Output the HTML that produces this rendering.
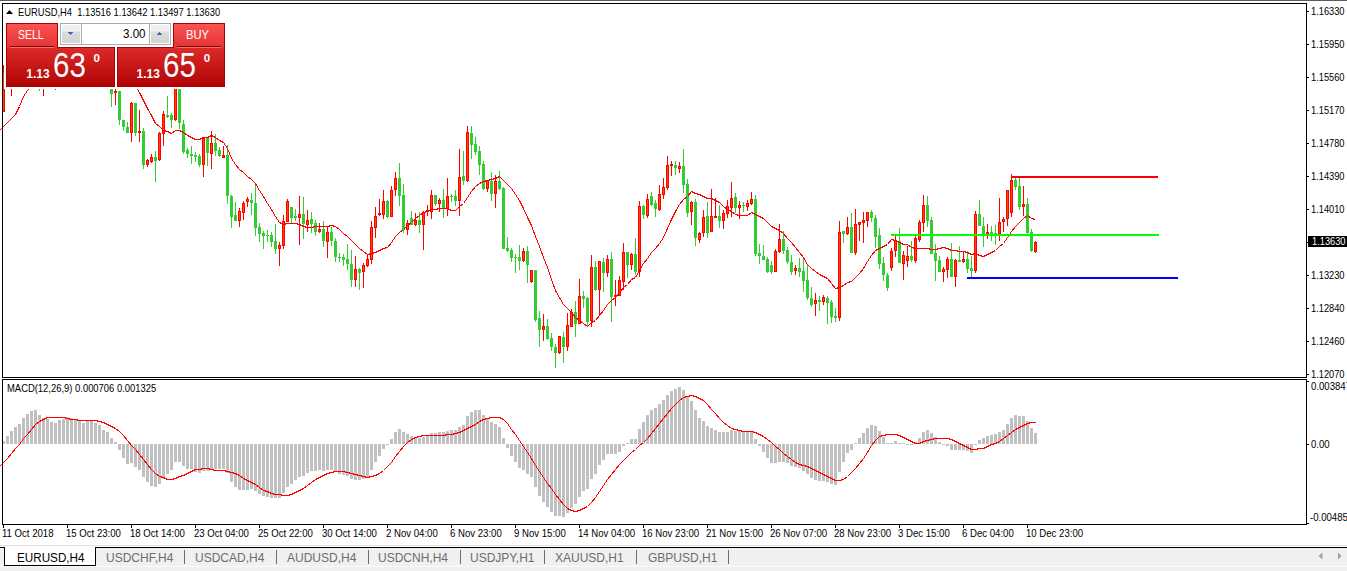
<!DOCTYPE html>
<html><head><meta charset="utf-8"><title>EURUSD,H4</title>
<style>
html,body{margin:0;padding:0;background:#fff;}
body{width:1347px;height:571px;overflow:hidden;position:relative;font-family:"Liberation Sans",sans-serif;}
.t{position:absolute;white-space:nowrap;line-height:1;}
</style></head><body>
<svg width="1347" height="571" style="position:absolute;left:0;top:0" shape-rendering="crispEdges">
<rect x="11" y="80" width="1" height="16" fill="#ff0000"/>
<rect x="39" y="80" width="1" height="11" fill="#32cd32"/>
<rect x="43" y="80" width="1" height="16" fill="#ff0000"/>
<rect x="55" y="80" width="1" height="10" fill="#ff0000"/>
<rect x="3" y="65" width="1" height="47" fill="#ff0000"/>
<rect x="2" y="72" width="3" height="40" fill="#ff0000"/>
<rect x="3" y="73" width="1" height="38" fill="#ff4500"/>
<rect x="111" y="89" width="1" height="18" fill="#32cd32"/>
<rect x="110" y="89" width="3" height="5" fill="#32cd32"/>
<rect x="115" y="89" width="1" height="16" fill="#ff0000"/>
<rect x="114" y="91" width="3" height="2" fill="#ff0000"/>
<rect x="119" y="91" width="1" height="34" fill="#32cd32"/>
<rect x="118" y="91" width="3" height="29" fill="#32cd32"/>
<rect x="123" y="120" width="1" height="11" fill="#32cd32"/>
<rect x="122" y="120" width="3" height="7" fill="#32cd32"/>
<rect x="127" y="122" width="1" height="11" fill="#32cd32"/>
<rect x="126" y="127" width="3" height="6" fill="#32cd32"/>
<rect x="131" y="102" width="1" height="40" fill="#ff0000"/>
<rect x="130" y="103" width="3" height="30" fill="#ff0000"/>
<rect x="131" y="104" width="1" height="28" fill="#ff4500"/>
<rect x="135" y="103" width="1" height="33" fill="#32cd32"/>
<rect x="134" y="103" width="3" height="30" fill="#32cd32"/>
<rect x="139" y="110" width="1" height="32" fill="#ff0000"/>
<rect x="138" y="131" width="3" height="2" fill="#ff0000"/>
<rect x="143" y="128" width="1" height="41" fill="#32cd32"/>
<rect x="142" y="131" width="3" height="34" fill="#32cd32"/>
<rect x="147" y="159" width="1" height="8" fill="#ff0000"/>
<rect x="146" y="160" width="3" height="5" fill="#ff0000"/>
<rect x="147" y="161" width="1" height="3" fill="#ff4500"/>
<rect x="151" y="154" width="1" height="9" fill="#ff0000"/>
<rect x="150" y="157" width="3" height="5" fill="#ff0000"/>
<rect x="151" y="158" width="1" height="3" fill="#ff4500"/>
<rect x="155" y="151" width="1" height="31" fill="#32cd32"/>
<rect x="154" y="157" width="3" height="4" fill="#32cd32"/>
<rect x="159" y="132" width="1" height="29" fill="#ff0000"/>
<rect x="158" y="133" width="3" height="27" fill="#ff0000"/>
<rect x="159" y="134" width="1" height="25" fill="#ff4500"/>
<rect x="163" y="111" width="1" height="35" fill="#ff0000"/>
<rect x="162" y="114" width="3" height="20" fill="#ff0000"/>
<rect x="163" y="115" width="1" height="18" fill="#ff4500"/>
<rect x="167" y="96" width="1" height="22" fill="#32cd32"/>
<rect x="166" y="115" width="3" height="2" fill="#32cd32"/>
<rect x="171" y="113" width="1" height="15" fill="#32cd32"/>
<rect x="170" y="115" width="3" height="5" fill="#32cd32"/>
<rect x="175" y="80" width="1" height="41" fill="#ff0000"/>
<rect x="174" y="80" width="3" height="40" fill="#ff0000"/>
<rect x="175" y="81" width="1" height="38" fill="#ff4500"/>
<rect x="179" y="80" width="1" height="49" fill="#32cd32"/>
<rect x="178" y="80" width="3" height="43" fill="#32cd32"/>
<rect x="183" y="120" width="1" height="34" fill="#32cd32"/>
<rect x="182" y="124" width="3" height="28" fill="#32cd32"/>
<rect x="187" y="148" width="1" height="10" fill="#32cd32"/>
<rect x="186" y="150" width="3" height="4" fill="#32cd32"/>
<rect x="191" y="146" width="1" height="18" fill="#32cd32"/>
<rect x="190" y="154" width="3" height="2" fill="#32cd32"/>
<rect x="195" y="152" width="1" height="10" fill="#32cd32"/>
<rect x="194" y="155" width="3" height="2" fill="#32cd32"/>
<rect x="199" y="154" width="1" height="13" fill="#32cd32"/>
<rect x="198" y="156" width="3" height="9" fill="#32cd32"/>
<rect x="203" y="138" width="1" height="39" fill="#ff0000"/>
<rect x="202" y="138" width="3" height="27" fill="#ff0000"/>
<rect x="203" y="139" width="1" height="25" fill="#ff4500"/>
<rect x="207" y="137" width="1" height="29" fill="#32cd32"/>
<rect x="206" y="138" width="3" height="15" fill="#32cd32"/>
<rect x="211" y="131" width="1" height="38" fill="#ff0000"/>
<rect x="210" y="143" width="3" height="11" fill="#ff0000"/>
<rect x="211" y="144" width="1" height="9" fill="#ff4500"/>
<rect x="215" y="134" width="1" height="22" fill="#32cd32"/>
<rect x="214" y="143" width="3" height="8" fill="#32cd32"/>
<rect x="219" y="147" width="1" height="10" fill="#32cd32"/>
<rect x="218" y="150" width="3" height="6" fill="#32cd32"/>
<rect x="223" y="146" width="1" height="12" fill="#ff0000"/>
<rect x="222" y="155" width="3" height="3" fill="#ff0000"/>
<rect x="223" y="156" width="1" height="1" fill="#ff4500"/>
<rect x="227" y="145" width="1" height="59" fill="#32cd32"/>
<rect x="226" y="155" width="3" height="41" fill="#32cd32"/>
<rect x="231" y="195" width="1" height="33" fill="#32cd32"/>
<rect x="230" y="196" width="3" height="21" fill="#32cd32"/>
<rect x="235" y="202" width="1" height="19" fill="#32cd32"/>
<rect x="234" y="215" width="3" height="6" fill="#32cd32"/>
<rect x="239" y="208" width="1" height="19" fill="#ff0000"/>
<rect x="238" y="211" width="3" height="10" fill="#ff0000"/>
<rect x="239" y="212" width="1" height="8" fill="#ff4500"/>
<rect x="243" y="201" width="1" height="19" fill="#ff0000"/>
<rect x="242" y="203" width="3" height="10" fill="#ff0000"/>
<rect x="243" y="204" width="1" height="8" fill="#ff4500"/>
<rect x="247" y="197" width="1" height="10" fill="#ff0000"/>
<rect x="246" y="199" width="3" height="3" fill="#ff0000"/>
<rect x="247" y="200" width="1" height="1" fill="#ff4500"/>
<rect x="251" y="193" width="1" height="22" fill="#32cd32"/>
<rect x="250" y="200" width="3" height="3" fill="#32cd32"/>
<rect x="255" y="183" width="1" height="53" fill="#32cd32"/>
<rect x="254" y="203" width="3" height="25" fill="#32cd32"/>
<rect x="259" y="223" width="1" height="19" fill="#32cd32"/>
<rect x="258" y="227" width="3" height="7" fill="#32cd32"/>
<rect x="263" y="231" width="1" height="18" fill="#32cd32"/>
<rect x="262" y="233" width="3" height="3" fill="#32cd32"/>
<rect x="267" y="230" width="1" height="12" fill="#32cd32"/>
<rect x="266" y="235" width="3" height="1" fill="#32cd32"/>
<rect x="271" y="232" width="1" height="15" fill="#32cd32"/>
<rect x="270" y="235" width="3" height="7" fill="#32cd32"/>
<rect x="275" y="224" width="1" height="30" fill="#32cd32"/>
<rect x="274" y="241" width="3" height="8" fill="#32cd32"/>
<rect x="279" y="242" width="1" height="24" fill="#ff0000"/>
<rect x="278" y="245" width="3" height="4" fill="#ff0000"/>
<rect x="279" y="246" width="1" height="2" fill="#ff4500"/>
<rect x="283" y="215" width="1" height="34" fill="#ff0000"/>
<rect x="282" y="221" width="3" height="25" fill="#ff0000"/>
<rect x="283" y="222" width="1" height="23" fill="#ff4500"/>
<rect x="287" y="199" width="1" height="23" fill="#ff0000"/>
<rect x="286" y="201" width="3" height="21" fill="#ff0000"/>
<rect x="287" y="202" width="1" height="19" fill="#ff4500"/>
<rect x="291" y="207" width="1" height="16" fill="#32cd32"/>
<rect x="290" y="207" width="3" height="11" fill="#32cd32"/>
<rect x="295" y="209" width="1" height="12" fill="#32cd32"/>
<rect x="294" y="216" width="3" height="2" fill="#32cd32"/>
<rect x="299" y="196" width="1" height="49" fill="#ff0000"/>
<rect x="298" y="214" width="3" height="4" fill="#ff0000"/>
<rect x="299" y="215" width="1" height="2" fill="#ff4500"/>
<rect x="303" y="197" width="1" height="42" fill="#32cd32"/>
<rect x="302" y="214" width="3" height="10" fill="#32cd32"/>
<rect x="307" y="210" width="1" height="22" fill="#ff0000"/>
<rect x="306" y="220" width="3" height="5" fill="#ff0000"/>
<rect x="307" y="221" width="1" height="3" fill="#ff4500"/>
<rect x="311" y="212" width="1" height="21" fill="#32cd32"/>
<rect x="310" y="219" width="3" height="5" fill="#32cd32"/>
<rect x="315" y="220" width="1" height="16" fill="#32cd32"/>
<rect x="314" y="223" width="3" height="9" fill="#32cd32"/>
<rect x="319" y="223" width="1" height="10" fill="#ff0000"/>
<rect x="318" y="229" width="3" height="3" fill="#ff0000"/>
<rect x="319" y="230" width="1" height="1" fill="#ff4500"/>
<rect x="323" y="221" width="1" height="26" fill="#32cd32"/>
<rect x="322" y="229" width="3" height="12" fill="#32cd32"/>
<rect x="327" y="227" width="1" height="31" fill="#ff0000"/>
<rect x="326" y="232" width="3" height="10" fill="#ff0000"/>
<rect x="327" y="233" width="1" height="8" fill="#ff4500"/>
<rect x="331" y="227" width="1" height="19" fill="#32cd32"/>
<rect x="330" y="232" width="3" height="9" fill="#32cd32"/>
<rect x="335" y="238" width="1" height="24" fill="#32cd32"/>
<rect x="334" y="241" width="3" height="16" fill="#32cd32"/>
<rect x="339" y="253" width="1" height="9" fill="#32cd32"/>
<rect x="338" y="257" width="3" height="1" fill="#32cd32"/>
<rect x="343" y="254" width="1" height="12" fill="#32cd32"/>
<rect x="342" y="257" width="3" height="3" fill="#32cd32"/>
<rect x="347" y="244" width="1" height="26" fill="#32cd32"/>
<rect x="346" y="259" width="3" height="5" fill="#32cd32"/>
<rect x="351" y="250" width="1" height="37" fill="#32cd32"/>
<rect x="350" y="264" width="3" height="16" fill="#32cd32"/>
<rect x="355" y="256" width="1" height="31" fill="#ff0000"/>
<rect x="354" y="269" width="3" height="11" fill="#ff0000"/>
<rect x="355" y="270" width="1" height="9" fill="#ff4500"/>
<rect x="359" y="268" width="1" height="22" fill="#32cd32"/>
<rect x="358" y="269" width="3" height="4" fill="#32cd32"/>
<rect x="363" y="263" width="1" height="25" fill="#ff0000"/>
<rect x="362" y="265" width="3" height="7" fill="#ff0000"/>
<rect x="363" y="266" width="1" height="5" fill="#ff4500"/>
<rect x="367" y="254" width="1" height="13" fill="#ff0000"/>
<rect x="366" y="259" width="3" height="7" fill="#ff0000"/>
<rect x="367" y="260" width="1" height="5" fill="#ff4500"/>
<rect x="371" y="221" width="1" height="43" fill="#ff0000"/>
<rect x="370" y="227" width="3" height="33" fill="#ff0000"/>
<rect x="371" y="228" width="1" height="31" fill="#ff4500"/>
<rect x="375" y="207" width="1" height="31" fill="#ff0000"/>
<rect x="374" y="216" width="3" height="12" fill="#ff0000"/>
<rect x="375" y="217" width="1" height="10" fill="#ff4500"/>
<rect x="379" y="199" width="1" height="17" fill="#ff0000"/>
<rect x="378" y="213" width="3" height="2" fill="#ff0000"/>
<rect x="383" y="190" width="1" height="29" fill="#ff0000"/>
<rect x="382" y="201" width="3" height="14" fill="#ff0000"/>
<rect x="383" y="202" width="1" height="12" fill="#ff4500"/>
<rect x="387" y="200" width="1" height="18" fill="#32cd32"/>
<rect x="386" y="201" width="3" height="16" fill="#32cd32"/>
<rect x="391" y="186" width="1" height="31" fill="#ff0000"/>
<rect x="390" y="190" width="3" height="27" fill="#ff0000"/>
<rect x="391" y="191" width="1" height="25" fill="#ff4500"/>
<rect x="395" y="172" width="1" height="24" fill="#ff0000"/>
<rect x="394" y="178" width="3" height="12" fill="#ff0000"/>
<rect x="395" y="179" width="1" height="10" fill="#ff4500"/>
<rect x="399" y="163" width="1" height="43" fill="#32cd32"/>
<rect x="398" y="178" width="3" height="18" fill="#32cd32"/>
<rect x="403" y="184" width="1" height="49" fill="#32cd32"/>
<rect x="402" y="195" width="3" height="35" fill="#32cd32"/>
<rect x="407" y="220" width="1" height="15" fill="#ff0000"/>
<rect x="406" y="223" width="3" height="7" fill="#ff0000"/>
<rect x="407" y="224" width="1" height="5" fill="#ff4500"/>
<rect x="411" y="211" width="1" height="14" fill="#32cd32"/>
<rect x="410" y="218" width="3" height="7" fill="#32cd32"/>
<rect x="415" y="213" width="1" height="13" fill="#ff0000"/>
<rect x="414" y="220" width="3" height="5" fill="#ff0000"/>
<rect x="415" y="221" width="1" height="3" fill="#ff4500"/>
<rect x="419" y="212" width="1" height="21" fill="#32cd32"/>
<rect x="418" y="220" width="3" height="5" fill="#32cd32"/>
<rect x="423" y="211" width="1" height="39" fill="#ff0000"/>
<rect x="422" y="212" width="3" height="13" fill="#ff0000"/>
<rect x="423" y="213" width="1" height="11" fill="#ff4500"/>
<rect x="427" y="205" width="1" height="11" fill="#ff0000"/>
<rect x="426" y="210" width="3" height="2" fill="#ff0000"/>
<rect x="431" y="190" width="1" height="29" fill="#ff0000"/>
<rect x="430" y="195" width="3" height="17" fill="#ff0000"/>
<rect x="431" y="196" width="1" height="15" fill="#ff4500"/>
<rect x="435" y="195" width="1" height="11" fill="#32cd32"/>
<rect x="434" y="195" width="3" height="9" fill="#32cd32"/>
<rect x="439" y="198" width="1" height="14" fill="#ff0000"/>
<rect x="438" y="200" width="3" height="4" fill="#ff0000"/>
<rect x="439" y="201" width="1" height="2" fill="#ff4500"/>
<rect x="443" y="189" width="1" height="29" fill="#32cd32"/>
<rect x="442" y="200" width="3" height="9" fill="#32cd32"/>
<rect x="447" y="178" width="1" height="38" fill="#ff0000"/>
<rect x="446" y="196" width="3" height="13" fill="#ff0000"/>
<rect x="447" y="197" width="1" height="11" fill="#ff4500"/>
<rect x="451" y="194" width="1" height="8" fill="#32cd32"/>
<rect x="450" y="196" width="3" height="1" fill="#32cd32"/>
<rect x="455" y="190" width="1" height="16" fill="#32cd32"/>
<rect x="454" y="196" width="3" height="5" fill="#32cd32"/>
<rect x="459" y="149" width="1" height="67" fill="#ff0000"/>
<rect x="458" y="177" width="3" height="24" fill="#ff0000"/>
<rect x="459" y="178" width="1" height="22" fill="#ff4500"/>
<rect x="463" y="151" width="1" height="34" fill="#32cd32"/>
<rect x="462" y="176" width="3" height="5" fill="#32cd32"/>
<rect x="467" y="126" width="1" height="56" fill="#ff0000"/>
<rect x="466" y="132" width="3" height="49" fill="#ff0000"/>
<rect x="467" y="133" width="1" height="47" fill="#ff4500"/>
<rect x="471" y="126" width="1" height="33" fill="#32cd32"/>
<rect x="470" y="133" width="3" height="12" fill="#32cd32"/>
<rect x="475" y="137" width="1" height="18" fill="#32cd32"/>
<rect x="474" y="144" width="3" height="8" fill="#32cd32"/>
<rect x="479" y="146" width="1" height="29" fill="#32cd32"/>
<rect x="478" y="151" width="3" height="14" fill="#32cd32"/>
<rect x="483" y="161" width="1" height="29" fill="#32cd32"/>
<rect x="482" y="164" width="3" height="25" fill="#32cd32"/>
<rect x="487" y="180" width="1" height="12" fill="#ff0000"/>
<rect x="486" y="180" width="3" height="9" fill="#ff0000"/>
<rect x="487" y="181" width="1" height="7" fill="#ff4500"/>
<rect x="491" y="172" width="1" height="29" fill="#32cd32"/>
<rect x="490" y="181" width="3" height="13" fill="#32cd32"/>
<rect x="495" y="175" width="1" height="33" fill="#ff0000"/>
<rect x="494" y="181" width="3" height="13" fill="#ff0000"/>
<rect x="495" y="182" width="1" height="11" fill="#ff4500"/>
<rect x="499" y="171" width="1" height="19" fill="#32cd32"/>
<rect x="498" y="181" width="3" height="8" fill="#32cd32"/>
<rect x="503" y="187" width="1" height="62" fill="#32cd32"/>
<rect x="502" y="188" width="3" height="61" fill="#32cd32"/>
<rect x="507" y="237" width="1" height="15" fill="#32cd32"/>
<rect x="506" y="248" width="3" height="3" fill="#32cd32"/>
<rect x="511" y="248" width="1" height="14" fill="#32cd32"/>
<rect x="510" y="250" width="3" height="8" fill="#32cd32"/>
<rect x="515" y="254" width="1" height="19" fill="#32cd32"/>
<rect x="514" y="257" width="3" height="1" fill="#32cd32"/>
<rect x="519" y="245" width="1" height="25" fill="#32cd32"/>
<rect x="518" y="257" width="3" height="4" fill="#32cd32"/>
<rect x="523" y="248" width="1" height="14" fill="#ff0000"/>
<rect x="522" y="251" width="3" height="10" fill="#ff0000"/>
<rect x="523" y="252" width="1" height="8" fill="#ff4500"/>
<rect x="527" y="246" width="1" height="37" fill="#32cd32"/>
<rect x="526" y="251" width="3" height="14" fill="#32cd32"/>
<rect x="531" y="270" width="1" height="13" fill="#ff0000"/>
<rect x="530" y="270" width="3" height="12" fill="#ff0000"/>
<rect x="531" y="271" width="1" height="10" fill="#ff4500"/>
<rect x="535" y="270" width="1" height="52" fill="#32cd32"/>
<rect x="534" y="270" width="3" height="50" fill="#32cd32"/>
<rect x="539" y="311" width="1" height="36" fill="#32cd32"/>
<rect x="538" y="318" width="3" height="12" fill="#32cd32"/>
<rect x="543" y="314" width="1" height="27" fill="#ff0000"/>
<rect x="542" y="326" width="3" height="4" fill="#ff0000"/>
<rect x="543" y="327" width="1" height="2" fill="#ff4500"/>
<rect x="547" y="319" width="1" height="21" fill="#32cd32"/>
<rect x="546" y="326" width="3" height="13" fill="#32cd32"/>
<rect x="551" y="333" width="1" height="18" fill="#32cd32"/>
<rect x="550" y="338" width="3" height="9" fill="#32cd32"/>
<rect x="555" y="344" width="1" height="24" fill="#32cd32"/>
<rect x="554" y="347" width="3" height="6" fill="#32cd32"/>
<rect x="559" y="336" width="1" height="18" fill="#ff0000"/>
<rect x="558" y="336" width="3" height="17" fill="#ff0000"/>
<rect x="559" y="337" width="1" height="15" fill="#ff4500"/>
<rect x="563" y="332" width="1" height="31" fill="#32cd32"/>
<rect x="562" y="337" width="3" height="10" fill="#32cd32"/>
<rect x="567" y="313" width="1" height="38" fill="#ff0000"/>
<rect x="566" y="325" width="3" height="22" fill="#ff0000"/>
<rect x="567" y="326" width="1" height="20" fill="#ff4500"/>
<rect x="571" y="309" width="1" height="18" fill="#ff0000"/>
<rect x="570" y="312" width="3" height="15" fill="#ff0000"/>
<rect x="571" y="313" width="1" height="13" fill="#ff4500"/>
<rect x="575" y="301" width="1" height="36" fill="#32cd32"/>
<rect x="574" y="312" width="3" height="12" fill="#32cd32"/>
<rect x="579" y="279" width="1" height="45" fill="#ff0000"/>
<rect x="578" y="296" width="3" height="28" fill="#ff0000"/>
<rect x="579" y="297" width="1" height="26" fill="#ff4500"/>
<rect x="583" y="291" width="1" height="17" fill="#32cd32"/>
<rect x="582" y="296" width="3" height="3" fill="#32cd32"/>
<rect x="587" y="297" width="1" height="30" fill="#32cd32"/>
<rect x="586" y="298" width="3" height="24" fill="#32cd32"/>
<rect x="591" y="255" width="1" height="72" fill="#ff0000"/>
<rect x="590" y="267" width="3" height="54" fill="#ff0000"/>
<rect x="591" y="268" width="1" height="52" fill="#ff4500"/>
<rect x="595" y="261" width="1" height="30" fill="#32cd32"/>
<rect x="594" y="267" width="3" height="23" fill="#32cd32"/>
<rect x="599" y="261" width="1" height="55" fill="#ff0000"/>
<rect x="598" y="261" width="3" height="29" fill="#ff0000"/>
<rect x="599" y="262" width="1" height="27" fill="#ff4500"/>
<rect x="603" y="258" width="1" height="34" fill="#32cd32"/>
<rect x="602" y="262" width="3" height="11" fill="#32cd32"/>
<rect x="607" y="255" width="1" height="22" fill="#ff0000"/>
<rect x="606" y="259" width="3" height="14" fill="#ff0000"/>
<rect x="607" y="260" width="1" height="12" fill="#ff4500"/>
<rect x="611" y="252" width="1" height="70" fill="#32cd32"/>
<rect x="610" y="259" width="3" height="38" fill="#32cd32"/>
<rect x="615" y="280" width="1" height="26" fill="#ff0000"/>
<rect x="614" y="295" width="3" height="2" fill="#ff0000"/>
<rect x="619" y="276" width="1" height="20" fill="#ff0000"/>
<rect x="618" y="280" width="3" height="16" fill="#ff0000"/>
<rect x="619" y="281" width="1" height="14" fill="#ff4500"/>
<rect x="623" y="243" width="1" height="47" fill="#ff0000"/>
<rect x="622" y="252" width="3" height="30" fill="#ff0000"/>
<rect x="623" y="253" width="1" height="28" fill="#ff4500"/>
<rect x="627" y="252" width="1" height="26" fill="#32cd32"/>
<rect x="626" y="252" width="3" height="13" fill="#32cd32"/>
<rect x="631" y="253" width="1" height="17" fill="#ff0000"/>
<rect x="630" y="254" width="3" height="11" fill="#ff0000"/>
<rect x="631" y="255" width="1" height="9" fill="#ff4500"/>
<rect x="635" y="238" width="1" height="37" fill="#32cd32"/>
<rect x="634" y="254" width="3" height="18" fill="#32cd32"/>
<rect x="639" y="201" width="1" height="76" fill="#ff0000"/>
<rect x="638" y="206" width="3" height="66" fill="#ff0000"/>
<rect x="639" y="207" width="1" height="64" fill="#ff4500"/>
<rect x="643" y="205" width="1" height="14" fill="#32cd32"/>
<rect x="642" y="206" width="3" height="9" fill="#32cd32"/>
<rect x="647" y="194" width="1" height="24" fill="#ff0000"/>
<rect x="646" y="199" width="3" height="17" fill="#ff0000"/>
<rect x="647" y="200" width="1" height="15" fill="#ff4500"/>
<rect x="651" y="192" width="1" height="14" fill="#32cd32"/>
<rect x="650" y="196" width="3" height="9" fill="#32cd32"/>
<rect x="655" y="200" width="1" height="17" fill="#32cd32"/>
<rect x="654" y="203" width="3" height="6" fill="#32cd32"/>
<rect x="659" y="185" width="1" height="26" fill="#ff0000"/>
<rect x="658" y="194" width="3" height="16" fill="#ff0000"/>
<rect x="659" y="195" width="1" height="14" fill="#ff4500"/>
<rect x="663" y="178" width="1" height="21" fill="#ff0000"/>
<rect x="662" y="187" width="3" height="8" fill="#ff0000"/>
<rect x="663" y="188" width="1" height="6" fill="#ff4500"/>
<rect x="667" y="156" width="1" height="34" fill="#ff0000"/>
<rect x="666" y="165" width="3" height="23" fill="#ff0000"/>
<rect x="667" y="166" width="1" height="21" fill="#ff4500"/>
<rect x="671" y="161" width="1" height="15" fill="#ff0000"/>
<rect x="670" y="164" width="3" height="2" fill="#ff0000"/>
<rect x="675" y="161" width="1" height="14" fill="#32cd32"/>
<rect x="674" y="165" width="3" height="3" fill="#32cd32"/>
<rect x="679" y="162" width="1" height="11" fill="#ff0000"/>
<rect x="678" y="166" width="3" height="3" fill="#ff0000"/>
<rect x="679" y="167" width="1" height="1" fill="#ff4500"/>
<rect x="683" y="149" width="1" height="44" fill="#32cd32"/>
<rect x="682" y="166" width="3" height="19" fill="#32cd32"/>
<rect x="687" y="179" width="1" height="38" fill="#32cd32"/>
<rect x="686" y="184" width="3" height="29" fill="#32cd32"/>
<rect x="691" y="201" width="1" height="24" fill="#ff0000"/>
<rect x="690" y="202" width="3" height="10" fill="#ff0000"/>
<rect x="691" y="203" width="1" height="8" fill="#ff4500"/>
<rect x="695" y="199" width="1" height="47" fill="#32cd32"/>
<rect x="694" y="202" width="3" height="36" fill="#32cd32"/>
<rect x="699" y="232" width="1" height="11" fill="#ff0000"/>
<rect x="698" y="233" width="3" height="7" fill="#ff0000"/>
<rect x="699" y="234" width="1" height="5" fill="#ff4500"/>
<rect x="703" y="210" width="1" height="27" fill="#ff0000"/>
<rect x="702" y="217" width="3" height="16" fill="#ff0000"/>
<rect x="703" y="218" width="1" height="14" fill="#ff4500"/>
<rect x="707" y="202" width="1" height="36" fill="#32cd32"/>
<rect x="706" y="216" width="3" height="17" fill="#32cd32"/>
<rect x="711" y="189" width="1" height="43" fill="#ff0000"/>
<rect x="710" y="216" width="3" height="16" fill="#ff0000"/>
<rect x="711" y="217" width="1" height="14" fill="#ff4500"/>
<rect x="715" y="198" width="1" height="20" fill="#ff0000"/>
<rect x="714" y="216" width="3" height="2" fill="#ff0000"/>
<rect x="719" y="205" width="1" height="23" fill="#32cd32"/>
<rect x="718" y="216" width="3" height="5" fill="#32cd32"/>
<rect x="723" y="210" width="1" height="19" fill="#ff0000"/>
<rect x="722" y="213" width="3" height="8" fill="#ff0000"/>
<rect x="723" y="214" width="1" height="6" fill="#ff4500"/>
<rect x="727" y="200" width="1" height="18" fill="#ff0000"/>
<rect x="726" y="206" width="3" height="8" fill="#ff0000"/>
<rect x="727" y="207" width="1" height="6" fill="#ff4500"/>
<rect x="731" y="182" width="1" height="35" fill="#ff0000"/>
<rect x="730" y="198" width="3" height="10" fill="#ff0000"/>
<rect x="731" y="199" width="1" height="8" fill="#ff4500"/>
<rect x="735" y="193" width="1" height="20" fill="#32cd32"/>
<rect x="734" y="197" width="3" height="11" fill="#32cd32"/>
<rect x="739" y="201" width="1" height="18" fill="#ff0000"/>
<rect x="738" y="205" width="3" height="3" fill="#ff0000"/>
<rect x="739" y="206" width="1" height="1" fill="#ff4500"/>
<rect x="743" y="202" width="1" height="10" fill="#32cd32"/>
<rect x="742" y="205" width="3" height="1" fill="#32cd32"/>
<rect x="747" y="200" width="1" height="11" fill="#ff0000"/>
<rect x="746" y="203" width="3" height="4" fill="#ff0000"/>
<rect x="747" y="204" width="1" height="2" fill="#ff4500"/>
<rect x="751" y="192" width="1" height="13" fill="#ff0000"/>
<rect x="750" y="199" width="3" height="5" fill="#ff0000"/>
<rect x="751" y="200" width="1" height="3" fill="#ff4500"/>
<rect x="755" y="195" width="1" height="61" fill="#32cd32"/>
<rect x="754" y="199" width="3" height="55" fill="#32cd32"/>
<rect x="759" y="244" width="1" height="20" fill="#32cd32"/>
<rect x="758" y="253" width="3" height="3" fill="#32cd32"/>
<rect x="763" y="245" width="1" height="15" fill="#32cd32"/>
<rect x="762" y="256" width="3" height="4" fill="#32cd32"/>
<rect x="767" y="257" width="1" height="16" fill="#32cd32"/>
<rect x="766" y="259" width="3" height="13" fill="#32cd32"/>
<rect x="771" y="261" width="1" height="13" fill="#32cd32"/>
<rect x="770" y="265" width="3" height="7" fill="#32cd32"/>
<rect x="775" y="249" width="1" height="23" fill="#ff0000"/>
<rect x="774" y="251" width="3" height="21" fill="#ff0000"/>
<rect x="775" y="252" width="1" height="19" fill="#ff4500"/>
<rect x="779" y="224" width="1" height="29" fill="#ff0000"/>
<rect x="778" y="239" width="3" height="13" fill="#ff0000"/>
<rect x="779" y="240" width="1" height="11" fill="#ff4500"/>
<rect x="783" y="231" width="1" height="23" fill="#32cd32"/>
<rect x="782" y="239" width="3" height="12" fill="#32cd32"/>
<rect x="787" y="247" width="1" height="17" fill="#32cd32"/>
<rect x="786" y="250" width="3" height="12" fill="#32cd32"/>
<rect x="791" y="255" width="1" height="20" fill="#32cd32"/>
<rect x="790" y="262" width="3" height="10" fill="#32cd32"/>
<rect x="795" y="265" width="1" height="10" fill="#ff0000"/>
<rect x="794" y="268" width="3" height="3" fill="#ff0000"/>
<rect x="795" y="269" width="1" height="1" fill="#ff4500"/>
<rect x="799" y="258" width="1" height="19" fill="#32cd32"/>
<rect x="798" y="268" width="3" height="4" fill="#32cd32"/>
<rect x="803" y="259" width="1" height="33" fill="#32cd32"/>
<rect x="802" y="271" width="3" height="10" fill="#32cd32"/>
<rect x="807" y="264" width="1" height="36" fill="#32cd32"/>
<rect x="806" y="280" width="3" height="18" fill="#32cd32"/>
<rect x="811" y="287" width="1" height="20" fill="#32cd32"/>
<rect x="810" y="298" width="3" height="7" fill="#32cd32"/>
<rect x="815" y="293" width="1" height="23" fill="#ff0000"/>
<rect x="814" y="300" width="3" height="4" fill="#ff0000"/>
<rect x="815" y="301" width="1" height="2" fill="#ff4500"/>
<rect x="819" y="296" width="1" height="15" fill="#32cd32"/>
<rect x="818" y="300" width="3" height="2" fill="#32cd32"/>
<rect x="823" y="295" width="1" height="10" fill="#ff0000"/>
<rect x="822" y="297" width="3" height="5" fill="#ff0000"/>
<rect x="823" y="298" width="1" height="3" fill="#ff4500"/>
<rect x="827" y="296" width="1" height="28" fill="#32cd32"/>
<rect x="826" y="298" width="3" height="5" fill="#32cd32"/>
<rect x="831" y="300" width="1" height="23" fill="#32cd32"/>
<rect x="830" y="302" width="3" height="15" fill="#32cd32"/>
<rect x="835" y="308" width="1" height="14" fill="#32cd32"/>
<rect x="834" y="316" width="3" height="2" fill="#32cd32"/>
<rect x="839" y="221" width="1" height="100" fill="#ff0000"/>
<rect x="838" y="232" width="3" height="86" fill="#ff0000"/>
<rect x="839" y="233" width="1" height="84" fill="#ff4500"/>
<rect x="843" y="231" width="1" height="12" fill="#32cd32"/>
<rect x="842" y="231" width="3" height="3" fill="#32cd32"/>
<rect x="847" y="217" width="1" height="18" fill="#ff0000"/>
<rect x="846" y="227" width="3" height="7" fill="#ff0000"/>
<rect x="847" y="228" width="1" height="5" fill="#ff4500"/>
<rect x="851" y="213" width="1" height="40" fill="#32cd32"/>
<rect x="850" y="227" width="3" height="26" fill="#32cd32"/>
<rect x="855" y="209" width="1" height="46" fill="#ff0000"/>
<rect x="854" y="224" width="3" height="29" fill="#ff0000"/>
<rect x="855" y="225" width="1" height="27" fill="#ff4500"/>
<rect x="859" y="222" width="1" height="19" fill="#ff0000"/>
<rect x="858" y="222" width="3" height="3" fill="#ff0000"/>
<rect x="859" y="223" width="1" height="1" fill="#ff4500"/>
<rect x="863" y="212" width="1" height="31" fill="#ff0000"/>
<rect x="862" y="220" width="3" height="3" fill="#ff0000"/>
<rect x="863" y="221" width="1" height="1" fill="#ff4500"/>
<rect x="867" y="212" width="1" height="15" fill="#ff0000"/>
<rect x="866" y="212" width="3" height="9" fill="#ff0000"/>
<rect x="867" y="213" width="1" height="7" fill="#ff4500"/>
<rect x="871" y="210" width="1" height="12" fill="#32cd32"/>
<rect x="870" y="212" width="3" height="6" fill="#32cd32"/>
<rect x="875" y="215" width="1" height="33" fill="#32cd32"/>
<rect x="874" y="218" width="3" height="19" fill="#32cd32"/>
<rect x="879" y="228" width="1" height="41" fill="#32cd32"/>
<rect x="878" y="235" width="3" height="29" fill="#32cd32"/>
<rect x="883" y="257" width="1" height="24" fill="#32cd32"/>
<rect x="882" y="263" width="3" height="12" fill="#32cd32"/>
<rect x="887" y="273" width="1" height="18" fill="#32cd32"/>
<rect x="886" y="275" width="3" height="13" fill="#32cd32"/>
<rect x="891" y="248" width="1" height="23" fill="#ff0000"/>
<rect x="890" y="251" width="3" height="17" fill="#ff0000"/>
<rect x="891" y="252" width="1" height="15" fill="#ff4500"/>
<rect x="895" y="236" width="1" height="21" fill="#ff0000"/>
<rect x="894" y="240" width="3" height="11" fill="#ff0000"/>
<rect x="895" y="241" width="1" height="9" fill="#ff4500"/>
<rect x="899" y="228" width="1" height="35" fill="#32cd32"/>
<rect x="898" y="241" width="3" height="22" fill="#32cd32"/>
<rect x="903" y="251" width="1" height="29" fill="#ff0000"/>
<rect x="902" y="255" width="3" height="9" fill="#ff0000"/>
<rect x="903" y="256" width="1" height="7" fill="#ff4500"/>
<rect x="907" y="246" width="1" height="21" fill="#ff0000"/>
<rect x="906" y="256" width="3" height="5" fill="#ff0000"/>
<rect x="907" y="257" width="1" height="3" fill="#ff4500"/>
<rect x="911" y="241" width="1" height="21" fill="#32cd32"/>
<rect x="910" y="256" width="3" height="4" fill="#32cd32"/>
<rect x="915" y="236" width="1" height="27" fill="#ff0000"/>
<rect x="914" y="238" width="3" height="23" fill="#ff0000"/>
<rect x="915" y="239" width="1" height="21" fill="#ff4500"/>
<rect x="919" y="220" width="1" height="22" fill="#ff0000"/>
<rect x="918" y="222" width="3" height="18" fill="#ff0000"/>
<rect x="919" y="223" width="1" height="16" fill="#ff4500"/>
<rect x="923" y="195" width="1" height="37" fill="#ff0000"/>
<rect x="922" y="205" width="3" height="18" fill="#ff0000"/>
<rect x="923" y="206" width="1" height="16" fill="#ff4500"/>
<rect x="927" y="196" width="1" height="31" fill="#32cd32"/>
<rect x="926" y="205" width="3" height="16" fill="#32cd32"/>
<rect x="931" y="217" width="1" height="37" fill="#32cd32"/>
<rect x="930" y="220" width="3" height="34" fill="#32cd32"/>
<rect x="935" y="244" width="1" height="37" fill="#32cd32"/>
<rect x="934" y="253" width="3" height="8" fill="#32cd32"/>
<rect x="939" y="256" width="1" height="16" fill="#32cd32"/>
<rect x="938" y="260" width="3" height="12" fill="#32cd32"/>
<rect x="943" y="267" width="1" height="15" fill="#ff0000"/>
<rect x="942" y="269" width="3" height="3" fill="#ff0000"/>
<rect x="943" y="270" width="1" height="1" fill="#ff4500"/>
<rect x="947" y="257" width="1" height="21" fill="#ff0000"/>
<rect x="946" y="259" width="3" height="11" fill="#ff0000"/>
<rect x="947" y="260" width="1" height="9" fill="#ff4500"/>
<rect x="951" y="243" width="1" height="34" fill="#32cd32"/>
<rect x="950" y="259" width="3" height="18" fill="#32cd32"/>
<rect x="955" y="259" width="1" height="28" fill="#ff0000"/>
<rect x="954" y="260" width="3" height="17" fill="#ff0000"/>
<rect x="955" y="261" width="1" height="15" fill="#ff4500"/>
<rect x="959" y="246" width="1" height="16" fill="#32cd32"/>
<rect x="958" y="260" width="3" height="2" fill="#32cd32"/>
<rect x="963" y="251" width="1" height="12" fill="#ff0000"/>
<rect x="962" y="259" width="3" height="3" fill="#ff0000"/>
<rect x="963" y="260" width="1" height="1" fill="#ff4500"/>
<rect x="967" y="251" width="1" height="22" fill="#32cd32"/>
<rect x="966" y="259" width="3" height="10" fill="#32cd32"/>
<rect x="971" y="256" width="1" height="21" fill="#32cd32"/>
<rect x="970" y="268" width="3" height="3" fill="#32cd32"/>
<rect x="975" y="211" width="1" height="62" fill="#ff0000"/>
<rect x="974" y="214" width="3" height="57" fill="#ff0000"/>
<rect x="975" y="215" width="1" height="55" fill="#ff4500"/>
<rect x="979" y="200" width="1" height="26" fill="#32cd32"/>
<rect x="978" y="214" width="3" height="12" fill="#32cd32"/>
<rect x="983" y="217" width="1" height="30" fill="#32cd32"/>
<rect x="982" y="226" width="3" height="9" fill="#32cd32"/>
<rect x="987" y="224" width="1" height="15" fill="#ff0000"/>
<rect x="986" y="232" width="3" height="2" fill="#ff0000"/>
<rect x="991" y="226" width="1" height="15" fill="#32cd32"/>
<rect x="990" y="232" width="3" height="2" fill="#32cd32"/>
<rect x="995" y="225" width="1" height="20" fill="#32cd32"/>
<rect x="994" y="233" width="3" height="1" fill="#32cd32"/>
<rect x="999" y="198" width="1" height="43" fill="#ff0000"/>
<rect x="998" y="222" width="3" height="12" fill="#ff0000"/>
<rect x="999" y="223" width="1" height="10" fill="#ff4500"/>
<rect x="1003" y="217" width="1" height="15" fill="#ff0000"/>
<rect x="1002" y="219" width="3" height="3" fill="#ff0000"/>
<rect x="1003" y="220" width="1" height="1" fill="#ff4500"/>
<rect x="1007" y="190" width="1" height="36" fill="#ff0000"/>
<rect x="1006" y="190" width="3" height="29" fill="#ff0000"/>
<rect x="1007" y="191" width="1" height="27" fill="#ff4500"/>
<rect x="1011" y="174" width="1" height="43" fill="#ff0000"/>
<rect x="1010" y="180" width="3" height="33" fill="#ff0000"/>
<rect x="1011" y="181" width="1" height="31" fill="#ff4500"/>
<rect x="1015" y="178" width="1" height="12" fill="#32cd32"/>
<rect x="1014" y="180" width="3" height="7" fill="#32cd32"/>
<rect x="1019" y="178" width="1" height="32" fill="#32cd32"/>
<rect x="1018" y="186" width="3" height="21" fill="#32cd32"/>
<rect x="1023" y="186" width="1" height="30" fill="#ff0000"/>
<rect x="1022" y="204" width="3" height="3" fill="#ff0000"/>
<rect x="1023" y="205" width="1" height="1" fill="#ff4500"/>
<rect x="1027" y="198" width="1" height="36" fill="#32cd32"/>
<rect x="1026" y="204" width="3" height="29" fill="#32cd32"/>
<rect x="1031" y="229" width="1" height="23" fill="#32cd32"/>
<rect x="1030" y="232" width="3" height="19" fill="#32cd32"/>
<rect x="1035" y="241" width="1" height="12" fill="#ff0000"/>
<rect x="1034" y="242" width="3" height="10" fill="#ff0000"/>
<rect x="1035" y="243" width="1" height="8" fill="#ff4500"/>
<polyline points="-0.5,130.5 3.5,126.5 7.5,122.5 11.5,118.5 15.5,114.5 19.5,106.5 23.5,96.5 27.5,90.5 31.5,84.5 35.5,80.5" fill="none" stroke="#ff0000" stroke-width="1"/>
<polyline points="131.5,79.5 135.5,86.5 139.5,92.5 143.5,100.5 147.5,108.5 151.5,115.5 155.5,123.5 159.5,126.5 163.5,130.5 167.5,131.5 171.5,133.5 175.5,130.5 179.5,130.5 183.5,132.5 187.5,135.5 191.5,137.5 195.5,139.5 199.5,139.5 203.5,137.5 207.5,137.5 211.5,135.5 215.5,137.5 219.5,140.5 223.5,142.5 227.5,148.5 231.5,158.5 235.5,164.5 239.5,169.5 243.5,172.5 247.5,176.5 251.5,179.5 255.5,183.5 259.5,190.5 263.5,196.5 267.5,203.5 271.5,209.5 275.5,216.5 279.5,222.5 283.5,224.5 287.5,223.5 291.5,223.5 295.5,223.5 299.5,224.5 303.5,226.5 307.5,227.5 311.5,227.5 315.5,226.5 319.5,226.5 323.5,226.5 327.5,226.5 331.5,225.5 335.5,226.5 339.5,229.5 343.5,233.5 347.5,236.5 351.5,240.5 355.5,244.5 359.5,248.5 363.5,251.5 367.5,254.5 371.5,253.5 375.5,252.5 379.5,250.5 383.5,248.5 387.5,247.5 391.5,242.5 395.5,236.5 399.5,232.5 403.5,229.5 407.5,225.5 411.5,222.5 415.5,218.5 419.5,215.5 423.5,212.5 427.5,211.5 431.5,209.5 435.5,209.5 439.5,208.5 443.5,208.5 447.5,208.5 451.5,210.5 455.5,210.5 459.5,206.5 463.5,203.5 467.5,197.5 471.5,191.5 475.5,186.5 479.5,183.5 483.5,181.5 487.5,180.5 491.5,179.5 495.5,178.5 499.5,176.5 503.5,180.5 507.5,184.5 511.5,188.5 515.5,194.5 519.5,200.5 523.5,208.5 527.5,217.5 531.5,225.5 535.5,236.5 539.5,246.5 543.5,257.5 547.5,267.5 551.5,279.5 555.5,290.5 559.5,297.5 563.5,304.5 567.5,308.5 571.5,312.5 575.5,317.5 579.5,320.5 583.5,323.5 587.5,326.5 591.5,322.5 595.5,320.5 599.5,315.5 603.5,310.5 607.5,304.5 611.5,300.5 615.5,297.5 619.5,292.5 623.5,287.5 627.5,284.5 631.5,279.5 635.5,277.5 639.5,270.5 643.5,263.5 647.5,258.5 651.5,252.5 655.5,248.5 659.5,243.5 663.5,237.5 667.5,228.5 671.5,219.5 675.5,211.5 679.5,204.5 683.5,199.5 687.5,196.5 691.5,191.5 695.5,193.5 699.5,194.5 703.5,196.5 707.5,198.5 711.5,198.5 715.5,200.5 719.5,202.5 723.5,206.5 727.5,209.5 731.5,211.5 735.5,214.5 739.5,215.5 743.5,215.5 747.5,215.5 751.5,212.5 755.5,214.5 759.5,216.5 763.5,218.5 767.5,222.5 771.5,226.5 775.5,228.5 779.5,230.5 783.5,233.5 787.5,238.5 791.5,242.5 795.5,247.5 799.5,252.5 803.5,257.5 807.5,264.5 811.5,268.5 815.5,271.5 819.5,274.5 823.5,276.5 827.5,278.5 831.5,283.5 835.5,288.5 839.5,287.5 843.5,285.5 847.5,282.5 851.5,281.5 855.5,277.5 859.5,273.5 863.5,268.5 867.5,261.5 871.5,255.5 875.5,250.5 879.5,248.5 883.5,246.5 887.5,244.5 891.5,239.5 895.5,240.5 899.5,242.5 903.5,244.5 907.5,244.5 911.5,247.5 915.5,248.5 919.5,248.5 923.5,248.5 927.5,248.5 931.5,249.5 935.5,249.5 939.5,248.5 943.5,247.5 947.5,248.5 951.5,250.5 955.5,250.5 959.5,251.5 963.5,251.5 967.5,252.5 971.5,254.5 975.5,253.5 979.5,255.5 983.5,256.5 987.5,254.5 991.5,252.5 995.5,250.5 999.5,246.5 1003.5,243.5 1007.5,237.5 1011.5,231.5 1015.5,226.5 1019.5,222.5 1023.5,218.5 1027.5,215.5 1031.5,218.5 1035.5,219.5" fill="none" stroke="#ff0000" stroke-width="1"/>
<rect x="1011" y="176" width="147" height="2" fill="#ff0000"/>
<rect x="891" y="234" width="268" height="2" fill="#00ff00"/>
<rect x="967" y="277" width="211" height="2" fill="#0000ff"/>
<rect x="4" y="21" width="223" height="68" fill="#ffffff"/>
<rect x="2" y="441" width="3" height="3" fill="#c0c0c0"/>
<rect x="6" y="436" width="3" height="8" fill="#c0c0c0"/>
<rect x="10" y="431" width="3" height="13" fill="#c0c0c0"/>
<rect x="14" y="427" width="3" height="17" fill="#c0c0c0"/>
<rect x="18" y="424" width="3" height="20" fill="#c0c0c0"/>
<rect x="22" y="418" width="3" height="26" fill="#c0c0c0"/>
<rect x="26" y="414" width="3" height="30" fill="#c0c0c0"/>
<rect x="30" y="411" width="3" height="33" fill="#c0c0c0"/>
<rect x="34" y="410" width="3" height="34" fill="#c0c0c0"/>
<rect x="38" y="415" width="3" height="29" fill="#c0c0c0"/>
<rect x="42" y="418" width="3" height="26" fill="#c0c0c0"/>
<rect x="46" y="419" width="3" height="25" fill="#c0c0c0"/>
<rect x="50" y="422" width="3" height="22" fill="#c0c0c0"/>
<rect x="54" y="423" width="3" height="21" fill="#c0c0c0"/>
<rect x="58" y="420" width="3" height="24" fill="#c0c0c0"/>
<rect x="62" y="419" width="3" height="25" fill="#c0c0c0"/>
<rect x="66" y="417" width="3" height="27" fill="#c0c0c0"/>
<rect x="70" y="418" width="3" height="26" fill="#c0c0c0"/>
<rect x="74" y="419" width="3" height="25" fill="#c0c0c0"/>
<rect x="78" y="421" width="3" height="23" fill="#c0c0c0"/>
<rect x="82" y="423" width="3" height="21" fill="#c0c0c0"/>
<rect x="86" y="421" width="3" height="23" fill="#c0c0c0"/>
<rect x="90" y="421" width="3" height="23" fill="#c0c0c0"/>
<rect x="94" y="423" width="3" height="21" fill="#c0c0c0"/>
<rect x="98" y="425" width="3" height="19" fill="#c0c0c0"/>
<rect x="102" y="430" width="3" height="14" fill="#c0c0c0"/>
<rect x="106" y="432" width="3" height="12" fill="#c0c0c0"/>
<rect x="110" y="438" width="3" height="6" fill="#c0c0c0"/>
<rect x="114" y="442" width="3" height="2" fill="#c0c0c0"/>
<rect x="118" y="444" width="3" height="6" fill="#c0c0c0"/>
<rect x="122" y="444" width="3" height="14" fill="#c0c0c0"/>
<rect x="126" y="444" width="3" height="20" fill="#c0c0c0"/>
<rect x="130" y="444" width="3" height="19" fill="#c0c0c0"/>
<rect x="134" y="444" width="3" height="23" fill="#c0c0c0"/>
<rect x="138" y="444" width="3" height="26" fill="#c0c0c0"/>
<rect x="142" y="444" width="3" height="33" fill="#c0c0c0"/>
<rect x="146" y="444" width="3" height="38" fill="#c0c0c0"/>
<rect x="150" y="444" width="3" height="42" fill="#c0c0c0"/>
<rect x="154" y="444" width="3" height="43" fill="#c0c0c0"/>
<rect x="158" y="444" width="3" height="40" fill="#c0c0c0"/>
<rect x="162" y="444" width="3" height="35" fill="#c0c0c0"/>
<rect x="166" y="444" width="3" height="30" fill="#c0c0c0"/>
<rect x="170" y="444" width="3" height="26" fill="#c0c0c0"/>
<rect x="174" y="444" width="3" height="18" fill="#c0c0c0"/>
<rect x="178" y="444" width="3" height="18" fill="#c0c0c0"/>
<rect x="182" y="444" width="3" height="22" fill="#c0c0c0"/>
<rect x="186" y="444" width="3" height="25" fill="#c0c0c0"/>
<rect x="190" y="444" width="3" height="25" fill="#c0c0c0"/>
<rect x="194" y="444" width="3" height="28" fill="#c0c0c0"/>
<rect x="198" y="444" width="3" height="29" fill="#c0c0c0"/>
<rect x="202" y="444" width="3" height="27" fill="#c0c0c0"/>
<rect x="206" y="444" width="3" height="27" fill="#c0c0c0"/>
<rect x="210" y="444" width="3" height="25" fill="#c0c0c0"/>
<rect x="214" y="444" width="3" height="25" fill="#c0c0c0"/>
<rect x="218" y="444" width="3" height="25" fill="#c0c0c0"/>
<rect x="222" y="444" width="3" height="25" fill="#c0c0c0"/>
<rect x="226" y="444" width="3" height="29" fill="#c0c0c0"/>
<rect x="230" y="444" width="3" height="38" fill="#c0c0c0"/>
<rect x="234" y="444" width="3" height="43" fill="#c0c0c0"/>
<rect x="238" y="444" width="3" height="46" fill="#c0c0c0"/>
<rect x="242" y="444" width="3" height="46" fill="#c0c0c0"/>
<rect x="246" y="444" width="3" height="46" fill="#c0c0c0"/>
<rect x="250" y="444" width="3" height="45" fill="#c0c0c0"/>
<rect x="254" y="444" width="3" height="47" fill="#c0c0c0"/>
<rect x="258" y="444" width="3" height="50" fill="#c0c0c0"/>
<rect x="262" y="444" width="3" height="52" fill="#c0c0c0"/>
<rect x="266" y="444" width="3" height="53" fill="#c0c0c0"/>
<rect x="270" y="444" width="3" height="54" fill="#c0c0c0"/>
<rect x="274" y="444" width="3" height="54" fill="#c0c0c0"/>
<rect x="278" y="444" width="3" height="54" fill="#c0c0c0"/>
<rect x="282" y="444" width="3" height="49" fill="#c0c0c0"/>
<rect x="286" y="444" width="3" height="43" fill="#c0c0c0"/>
<rect x="290" y="444" width="3" height="40" fill="#c0c0c0"/>
<rect x="294" y="444" width="3" height="36" fill="#c0c0c0"/>
<rect x="298" y="444" width="3" height="33" fill="#c0c0c0"/>
<rect x="302" y="444" width="3" height="32" fill="#c0c0c0"/>
<rect x="306" y="444" width="3" height="29" fill="#c0c0c0"/>
<rect x="310" y="444" width="3" height="27" fill="#c0c0c0"/>
<rect x="314" y="444" width="3" height="27" fill="#c0c0c0"/>
<rect x="318" y="444" width="3" height="26" fill="#c0c0c0"/>
<rect x="322" y="444" width="3" height="27" fill="#c0c0c0"/>
<rect x="326" y="444" width="3" height="26" fill="#c0c0c0"/>
<rect x="330" y="444" width="3" height="26" fill="#c0c0c0"/>
<rect x="334" y="444" width="3" height="28" fill="#c0c0c0"/>
<rect x="338" y="444" width="3" height="30" fill="#c0c0c0"/>
<rect x="342" y="444" width="3" height="31" fill="#c0c0c0"/>
<rect x="346" y="444" width="3" height="32" fill="#c0c0c0"/>
<rect x="350" y="444" width="3" height="35" fill="#c0c0c0"/>
<rect x="354" y="444" width="3" height="36" fill="#c0c0c0"/>
<rect x="358" y="444" width="3" height="36" fill="#c0c0c0"/>
<rect x="362" y="444" width="3" height="35" fill="#c0c0c0"/>
<rect x="366" y="444" width="3" height="33" fill="#c0c0c0"/>
<rect x="370" y="444" width="3" height="26" fill="#c0c0c0"/>
<rect x="374" y="444" width="3" height="18" fill="#c0c0c0"/>
<rect x="378" y="444" width="3" height="12" fill="#c0c0c0"/>
<rect x="382" y="444" width="3" height="5" fill="#c0c0c0"/>
<rect x="386" y="444" width="3" height="1" fill="#c0c0c0"/>
<rect x="390" y="439" width="3" height="5" fill="#c0c0c0"/>
<rect x="394" y="432" width="3" height="12" fill="#c0c0c0"/>
<rect x="398" y="429" width="3" height="15" fill="#c0c0c0"/>
<rect x="402" y="432" width="3" height="12" fill="#c0c0c0"/>
<rect x="406" y="434" width="3" height="10" fill="#c0c0c0"/>
<rect x="410" y="436" width="3" height="8" fill="#c0c0c0"/>
<rect x="414" y="437" width="3" height="7" fill="#c0c0c0"/>
<rect x="418" y="438" width="3" height="6" fill="#c0c0c0"/>
<rect x="422" y="437" width="3" height="7" fill="#c0c0c0"/>
<rect x="426" y="436" width="3" height="8" fill="#c0c0c0"/>
<rect x="430" y="433" width="3" height="11" fill="#c0c0c0"/>
<rect x="434" y="433" width="3" height="11" fill="#c0c0c0"/>
<rect x="438" y="432" width="3" height="12" fill="#c0c0c0"/>
<rect x="442" y="432" width="3" height="12" fill="#c0c0c0"/>
<rect x="446" y="431" width="3" height="13" fill="#c0c0c0"/>
<rect x="450" y="430" width="3" height="14" fill="#c0c0c0"/>
<rect x="454" y="430" width="3" height="14" fill="#c0c0c0"/>
<rect x="458" y="427" width="3" height="17" fill="#c0c0c0"/>
<rect x="462" y="425" width="3" height="19" fill="#c0c0c0"/>
<rect x="466" y="416" width="3" height="28" fill="#c0c0c0"/>
<rect x="470" y="412" width="3" height="32" fill="#c0c0c0"/>
<rect x="474" y="410" width="3" height="34" fill="#c0c0c0"/>
<rect x="478" y="410" width="3" height="34" fill="#c0c0c0"/>
<rect x="482" y="415" width="3" height="29" fill="#c0c0c0"/>
<rect x="486" y="418" width="3" height="26" fill="#c0c0c0"/>
<rect x="490" y="422" width="3" height="22" fill="#c0c0c0"/>
<rect x="494" y="424" width="3" height="20" fill="#c0c0c0"/>
<rect x="498" y="427" width="3" height="17" fill="#c0c0c0"/>
<rect x="502" y="438" width="3" height="6" fill="#c0c0c0"/>
<rect x="506" y="444" width="3" height="4" fill="#c0c0c0"/>
<rect x="510" y="444" width="3" height="12" fill="#c0c0c0"/>
<rect x="514" y="444" width="3" height="18" fill="#c0c0c0"/>
<rect x="518" y="444" width="3" height="24" fill="#c0c0c0"/>
<rect x="522" y="444" width="3" height="26" fill="#c0c0c0"/>
<rect x="526" y="444" width="3" height="30" fill="#c0c0c0"/>
<rect x="530" y="444" width="3" height="33" fill="#c0c0c0"/>
<rect x="534" y="444" width="3" height="43" fill="#c0c0c0"/>
<rect x="538" y="444" width="3" height="52" fill="#c0c0c0"/>
<rect x="542" y="444" width="3" height="58" fill="#c0c0c0"/>
<rect x="546" y="444" width="3" height="63" fill="#c0c0c0"/>
<rect x="550" y="444" width="3" height="68" fill="#c0c0c0"/>
<rect x="554" y="444" width="3" height="72" fill="#c0c0c0"/>
<rect x="558" y="444" width="3" height="72" fill="#c0c0c0"/>
<rect x="562" y="444" width="3" height="73" fill="#c0c0c0"/>
<rect x="566" y="444" width="3" height="69" fill="#c0c0c0"/>
<rect x="570" y="444" width="3" height="64" fill="#c0c0c0"/>
<rect x="574" y="444" width="3" height="60" fill="#c0c0c0"/>
<rect x="578" y="444" width="3" height="53" fill="#c0c0c0"/>
<rect x="582" y="444" width="3" height="47" fill="#c0c0c0"/>
<rect x="586" y="444" width="3" height="45" fill="#c0c0c0"/>
<rect x="590" y="444" width="3" height="35" fill="#c0c0c0"/>
<rect x="594" y="444" width="3" height="30" fill="#c0c0c0"/>
<rect x="598" y="444" width="3" height="21" fill="#c0c0c0"/>
<rect x="602" y="444" width="3" height="16" fill="#c0c0c0"/>
<rect x="606" y="444" width="3" height="10" fill="#c0c0c0"/>
<rect x="610" y="444" width="3" height="10" fill="#c0c0c0"/>
<rect x="614" y="444" width="3" height="10" fill="#c0c0c0"/>
<rect x="618" y="444" width="3" height="8" fill="#c0c0c0"/>
<rect x="622" y="444" width="3" height="2" fill="#c0c0c0"/>
<rect x="626" y="443" width="3" height="1" fill="#c0c0c0"/>
<rect x="630" y="439" width="3" height="5" fill="#c0c0c0"/>
<rect x="634" y="439" width="3" height="5" fill="#c0c0c0"/>
<rect x="638" y="429" width="3" height="15" fill="#c0c0c0"/>
<rect x="642" y="422" width="3" height="22" fill="#c0c0c0"/>
<rect x="646" y="415" width="3" height="29" fill="#c0c0c0"/>
<rect x="650" y="410" width="3" height="34" fill="#c0c0c0"/>
<rect x="654" y="408" width="3" height="36" fill="#c0c0c0"/>
<rect x="658" y="404" width="3" height="40" fill="#c0c0c0"/>
<rect x="662" y="400" width="3" height="44" fill="#c0c0c0"/>
<rect x="666" y="395" width="3" height="49" fill="#c0c0c0"/>
<rect x="670" y="391" width="3" height="53" fill="#c0c0c0"/>
<rect x="674" y="389" width="3" height="55" fill="#c0c0c0"/>
<rect x="678" y="387" width="3" height="57" fill="#c0c0c0"/>
<rect x="682" y="390" width="3" height="54" fill="#c0c0c0"/>
<rect x="686" y="397" width="3" height="47" fill="#c0c0c0"/>
<rect x="690" y="401" width="3" height="43" fill="#c0c0c0"/>
<rect x="694" y="410" width="3" height="34" fill="#c0c0c0"/>
<rect x="698" y="418" width="3" height="26" fill="#c0c0c0"/>
<rect x="702" y="421" width="3" height="23" fill="#c0c0c0"/>
<rect x="706" y="426" width="3" height="18" fill="#c0c0c0"/>
<rect x="710" y="428" width="3" height="16" fill="#c0c0c0"/>
<rect x="714" y="430" width="3" height="14" fill="#c0c0c0"/>
<rect x="718" y="432" width="3" height="12" fill="#c0c0c0"/>
<rect x="722" y="432" width="3" height="12" fill="#c0c0c0"/>
<rect x="726" y="432" width="3" height="12" fill="#c0c0c0"/>
<rect x="730" y="430" width="3" height="14" fill="#c0c0c0"/>
<rect x="734" y="431" width="3" height="13" fill="#c0c0c0"/>
<rect x="738" y="431" width="3" height="13" fill="#c0c0c0"/>
<rect x="742" y="431" width="3" height="13" fill="#c0c0c0"/>
<rect x="746" y="431" width="3" height="13" fill="#c0c0c0"/>
<rect x="750" y="431" width="3" height="13" fill="#c0c0c0"/>
<rect x="754" y="439" width="3" height="5" fill="#c0c0c0"/>
<rect x="758" y="444" width="3" height="2" fill="#c0c0c0"/>
<rect x="762" y="444" width="3" height="8" fill="#c0c0c0"/>
<rect x="766" y="444" width="3" height="14" fill="#c0c0c0"/>
<rect x="770" y="444" width="3" height="19" fill="#c0c0c0"/>
<rect x="774" y="444" width="3" height="19" fill="#c0c0c0"/>
<rect x="778" y="444" width="3" height="18" fill="#c0c0c0"/>
<rect x="782" y="444" width="3" height="18" fill="#c0c0c0"/>
<rect x="786" y="444" width="3" height="19" fill="#c0c0c0"/>
<rect x="790" y="444" width="3" height="22" fill="#c0c0c0"/>
<rect x="794" y="444" width="3" height="23" fill="#c0c0c0"/>
<rect x="798" y="444" width="3" height="24" fill="#c0c0c0"/>
<rect x="802" y="444" width="3" height="27" fill="#c0c0c0"/>
<rect x="806" y="444" width="3" height="30" fill="#c0c0c0"/>
<rect x="810" y="444" width="3" height="34" fill="#c0c0c0"/>
<rect x="814" y="444" width="3" height="36" fill="#c0c0c0"/>
<rect x="818" y="444" width="3" height="37" fill="#c0c0c0"/>
<rect x="822" y="444" width="3" height="37" fill="#c0c0c0"/>
<rect x="826" y="444" width="3" height="38" fill="#c0c0c0"/>
<rect x="830" y="444" width="3" height="40" fill="#c0c0c0"/>
<rect x="834" y="444" width="3" height="41" fill="#c0c0c0"/>
<rect x="838" y="444" width="3" height="28" fill="#c0c0c0"/>
<rect x="842" y="444" width="3" height="18" fill="#c0c0c0"/>
<rect x="846" y="444" width="3" height="9" fill="#c0c0c0"/>
<rect x="850" y="444" width="3" height="6" fill="#c0c0c0"/>
<rect x="854" y="443" width="3" height="1" fill="#c0c0c0"/>
<rect x="858" y="438" width="3" height="6" fill="#c0c0c0"/>
<rect x="862" y="433" width="3" height="11" fill="#c0c0c0"/>
<rect x="866" y="428" width="3" height="16" fill="#c0c0c0"/>
<rect x="870" y="425" width="3" height="19" fill="#c0c0c0"/>
<rect x="874" y="426" width="3" height="18" fill="#c0c0c0"/>
<rect x="878" y="431" width="3" height="13" fill="#c0c0c0"/>
<rect x="882" y="437" width="3" height="7" fill="#c0c0c0"/>
<rect x="886" y="443" width="3" height="1" fill="#c0c0c0"/>
<rect x="890" y="443" width="3" height="1" fill="#c0c0c0"/>
<rect x="894" y="441" width="3" height="3" fill="#c0c0c0"/>
<rect x="898" y="443" width="3" height="1" fill="#c0c0c0"/>
<rect x="902" y="443" width="3" height="1" fill="#c0c0c0"/>
<rect x="906" y="444" width="3" height="1" fill="#c0c0c0"/>
<rect x="910" y="444" width="3" height="1" fill="#c0c0c0"/>
<rect x="914" y="442" width="3" height="2" fill="#c0c0c0"/>
<rect x="918" y="438" width="3" height="6" fill="#c0c0c0"/>
<rect x="922" y="432" width="3" height="12" fill="#c0c0c0"/>
<rect x="926" y="430" width="3" height="14" fill="#c0c0c0"/>
<rect x="930" y="433" width="3" height="11" fill="#c0c0c0"/>
<rect x="934" y="437" width="3" height="7" fill="#c0c0c0"/>
<rect x="938" y="442" width="3" height="2" fill="#c0c0c0"/>
<rect x="942" y="444" width="3" height="1" fill="#c0c0c0"/>
<rect x="946" y="444" width="3" height="2" fill="#c0c0c0"/>
<rect x="950" y="444" width="3" height="6" fill="#c0c0c0"/>
<rect x="954" y="444" width="3" height="6" fill="#c0c0c0"/>
<rect x="958" y="444" width="3" height="6" fill="#c0c0c0"/>
<rect x="962" y="444" width="3" height="6" fill="#c0c0c0"/>
<rect x="966" y="444" width="3" height="7" fill="#c0c0c0"/>
<rect x="970" y="444" width="3" height="9" fill="#c0c0c0"/>
<rect x="974" y="444" width="3" height="1" fill="#c0c0c0"/>
<rect x="978" y="440" width="3" height="4" fill="#c0c0c0"/>
<rect x="982" y="438" width="3" height="6" fill="#c0c0c0"/>
<rect x="986" y="436" width="3" height="8" fill="#c0c0c0"/>
<rect x="990" y="435" width="3" height="9" fill="#c0c0c0"/>
<rect x="994" y="434" width="3" height="10" fill="#c0c0c0"/>
<rect x="998" y="432" width="3" height="12" fill="#c0c0c0"/>
<rect x="1002" y="430" width="3" height="14" fill="#c0c0c0"/>
<rect x="1006" y="424" width="3" height="20" fill="#c0c0c0"/>
<rect x="1010" y="418" width="3" height="26" fill="#c0c0c0"/>
<rect x="1014" y="415" width="3" height="29" fill="#c0c0c0"/>
<rect x="1018" y="416" width="3" height="28" fill="#c0c0c0"/>
<rect x="1022" y="416" width="3" height="28" fill="#c0c0c0"/>
<rect x="1026" y="421" width="3" height="23" fill="#c0c0c0"/>
<rect x="1030" y="428" width="3" height="16" fill="#c0c0c0"/>
<rect x="1034" y="433" width="3" height="11" fill="#c0c0c0"/>
<polyline points="-0.5,466.5 3.5,462.5 7.5,458.5 11.5,453.5 15.5,448.5 19.5,444.5 23.5,438.5 27.5,434.5 31.5,429.5 35.5,424.5 39.5,421.5 43.5,419.5 47.5,417.5 51.5,417.5 55.5,417.5 59.5,417.5 63.5,417.5 67.5,418.5 71.5,419.5 75.5,419.5 79.5,420.5 83.5,420.5 87.5,420.5 91.5,420.5 95.5,420.5 99.5,421.5 103.5,422.5 107.5,424.5 111.5,426.5 115.5,428.5 119.5,431.5 123.5,435.5 127.5,440.5 131.5,445.5 135.5,449.5 139.5,454.5 143.5,459.5 147.5,464.5 151.5,469.5 155.5,473.5 159.5,476.5 163.5,477.5 167.5,479.5 171.5,479.5 175.5,478.5 179.5,476.5 183.5,475.5 187.5,473.5 191.5,471.5 195.5,469.5 199.5,469.5 203.5,468.5 207.5,468.5 211.5,469.5 215.5,470.5 219.5,470.5 223.5,470.5 227.5,471.5 231.5,472.5 235.5,473.5 239.5,475.5 243.5,478.5 247.5,480.5 251.5,482.5 255.5,484.5 259.5,487.5 263.5,490.5 267.5,491.5 271.5,493.5 275.5,494.5 279.5,494.5 283.5,495.5 287.5,495.5 291.5,494.5 295.5,492.5 299.5,490.5 303.5,488.5 307.5,485.5 311.5,482.5 315.5,479.5 319.5,477.5 323.5,475.5 327.5,473.5 331.5,472.5 335.5,471.5 339.5,471.5 343.5,471.5 347.5,472.5 351.5,473.5 355.5,474.5 359.5,475.5 363.5,476.5 367.5,477.5 371.5,476.5 375.5,475.5 379.5,473.5 383.5,470.5 387.5,466.5 391.5,462.5 395.5,456.5 399.5,451.5 403.5,446.5 407.5,442.5 411.5,439.5 415.5,437.5 419.5,436.5 423.5,435.5 427.5,435.5 431.5,435.5 435.5,435.5 439.5,435.5 443.5,435.5 447.5,434.5 451.5,434.5 455.5,433.5 459.5,432.5 463.5,430.5 467.5,428.5 471.5,426.5 475.5,424.5 479.5,421.5 483.5,419.5 487.5,418.5 491.5,417.5 495.5,417.5 499.5,417.5 503.5,419.5 507.5,423.5 511.5,429.5 515.5,434.5 519.5,440.5 523.5,446.5 527.5,452.5 531.5,458.5 535.5,465.5 539.5,471.5 543.5,477.5 547.5,483.5 551.5,488.5 555.5,494.5 559.5,499.5 563.5,504.5 567.5,508.5 571.5,510.5 575.5,511.5 579.5,510.5 583.5,508.5 587.5,506.5 591.5,502.5 595.5,497.5 599.5,491.5 603.5,485.5 607.5,479.5 611.5,474.5 615.5,469.5 619.5,464.5 623.5,460.5 627.5,456.5 631.5,452.5 635.5,449.5 639.5,445.5 643.5,442.5 647.5,438.5 651.5,433.5 655.5,428.5 659.5,423.5 663.5,418.5 667.5,413.5 671.5,408.5 675.5,404.5 679.5,400.5 683.5,397.5 687.5,396.5 691.5,395.5 695.5,396.5 699.5,398.5 703.5,400.5 707.5,404.5 711.5,409.5 715.5,413.5 719.5,418.5 723.5,422.5 727.5,425.5 731.5,428.5 735.5,429.5 739.5,430.5 743.5,431.5 747.5,431.5 751.5,431.5 755.5,432.5 759.5,434.5 763.5,436.5 767.5,439.5 771.5,442.5 775.5,446.5 779.5,449.5 783.5,453.5 787.5,456.5 791.5,459.5 795.5,462.5 799.5,464.5 803.5,465.5 807.5,466.5 811.5,468.5 815.5,470.5 819.5,472.5 823.5,474.5 827.5,476.5 831.5,478.5 835.5,480.5 839.5,480.5 843.5,479.5 847.5,476.5 851.5,472.5 855.5,468.5 859.5,463.5 863.5,458.5 867.5,452.5 871.5,445.5 875.5,440.5 879.5,436.5 883.5,435.5 887.5,434.5 891.5,434.5 895.5,434.5 899.5,435.5 903.5,437.5 907.5,439.5 911.5,441.5 915.5,443.5 919.5,443.5 923.5,441.5 927.5,440.5 931.5,439.5 935.5,438.5 939.5,438.5 943.5,438.5 947.5,438.5 951.5,439.5 955.5,441.5 959.5,443.5 963.5,445.5 967.5,447.5 971.5,449.5 975.5,449.5 979.5,448.5 983.5,448.5 987.5,446.5 991.5,444.5 995.5,443.5 999.5,441.5 1003.5,438.5 1007.5,435.5 1011.5,432.5 1015.5,429.5 1019.5,427.5 1023.5,425.5 1027.5,423.5 1031.5,422.5 1035.5,422.5" fill="none" stroke="#ff0000" stroke-width="1"/>
<rect x="2" y="3" width="1305" height="1" fill="#000"/>
<rect x="2" y="377" width="1305" height="1" fill="#000"/>
<rect x="2" y="3" width="1" height="375" fill="#000"/>
<rect x="1306" y="3" width="1" height="375" fill="#000"/>
<rect x="2" y="379" width="1305" height="1" fill="#000"/>
<rect x="2" y="524" width="1305" height="1" fill="#000"/>
<rect x="2" y="379" width="1" height="146" fill="#000"/>
<rect x="1306" y="379" width="1" height="146" fill="#000"/>
<rect x="1307" y="11" width="2" height="1" fill="#000"/>
<rect x="1307" y="44" width="2" height="1" fill="#000"/>
<rect x="1307" y="77" width="2" height="1" fill="#000"/>
<rect x="1307" y="110" width="2" height="1" fill="#000"/>
<rect x="1307" y="143" width="2" height="1" fill="#000"/>
<rect x="1307" y="176" width="2" height="1" fill="#000"/>
<rect x="1307" y="209" width="2" height="1" fill="#000"/>
<rect x="1307" y="242" width="2" height="1" fill="#000"/>
<rect x="1307" y="275" width="2" height="1" fill="#000"/>
<rect x="1307" y="308" width="2" height="1" fill="#000"/>
<rect x="1307" y="341" width="2" height="1" fill="#000"/>
<rect x="1307" y="374" width="2" height="1" fill="#000"/>
<rect x="1307" y="381" width="2" height="1" fill="#000"/>
<rect x="1307" y="444" width="2" height="1" fill="#000"/>
<rect x="1307" y="523" width="2" height="1" fill="#000"/>
<rect x="3" y="525" width="1" height="3" fill="#000"/>
<rect x="67" y="525" width="1" height="3" fill="#000"/>
<rect x="131" y="525" width="1" height="3" fill="#000"/>
<rect x="195" y="525" width="1" height="3" fill="#000"/>
<rect x="259" y="525" width="1" height="3" fill="#000"/>
<rect x="323" y="525" width="1" height="3" fill="#000"/>
<rect x="387" y="525" width="1" height="3" fill="#000"/>
<rect x="451" y="525" width="1" height="3" fill="#000"/>
<rect x="515" y="525" width="1" height="3" fill="#000"/>
<rect x="579" y="525" width="1" height="3" fill="#000"/>
<rect x="643" y="525" width="1" height="3" fill="#000"/>
<rect x="707" y="525" width="1" height="3" fill="#000"/>
<rect x="771" y="525" width="1" height="3" fill="#000"/>
<rect x="835" y="525" width="1" height="3" fill="#000"/>
<rect x="899" y="525" width="1" height="3" fill="#000"/>
<rect x="963" y="525" width="1" height="3" fill="#000"/>
<rect x="1027" y="525" width="1" height="3" fill="#000"/>
<rect x="0" y="0" width="1347" height="1" fill="#5b5b5b"/>
<polygon points="6,14 13,14 9.5,10" fill="#000" shape-rendering="auto"/>
</svg>
<div class="t" style="left:17.9px;top:7.65px;font-size:10.1px;color:#000;transform:scaleX(0.926);transform-origin:0 0;">EURUSD,H4&nbsp; 1.13516 1.13642 1.13497 1.13630</div><div class="t" style="left:1311.3px;top:7.45px;font-size:10.1px;color:#000;transform:scaleX(0.919);transform-origin:0 0;">1.16330</div><div class="t" style="left:1311.3px;top:40.45px;font-size:10.1px;color:#000;transform:scaleX(0.919);transform-origin:0 0;">1.15950</div><div class="t" style="left:1311.3px;top:73.45px;font-size:10.1px;color:#000;transform:scaleX(0.919);transform-origin:0 0;">1.15560</div><div class="t" style="left:1311.3px;top:106.45px;font-size:10.1px;color:#000;transform:scaleX(0.919);transform-origin:0 0;">1.15170</div><div class="t" style="left:1311.3px;top:139.45px;font-size:10.1px;color:#000;transform:scaleX(0.919);transform-origin:0 0;">1.14780</div><div class="t" style="left:1311.3px;top:172.45px;font-size:10.1px;color:#000;transform:scaleX(0.919);transform-origin:0 0;">1.14390</div><div class="t" style="left:1311.3px;top:205.45px;font-size:10.1px;color:#000;transform:scaleX(0.919);transform-origin:0 0;">1.14010</div><div class="t" style="left:1311.3px;top:271.45px;font-size:10.1px;color:#000;transform:scaleX(0.919);transform-origin:0 0;">1.13230</div><div class="t" style="left:1311.3px;top:304.45px;font-size:10.1px;color:#000;transform:scaleX(0.919);transform-origin:0 0;">1.12840</div><div class="t" style="left:1311.3px;top:337.45px;font-size:10.1px;color:#000;transform:scaleX(0.919);transform-origin:0 0;">1.12460</div><div class="t" style="left:1311.3px;top:370.45px;font-size:10.1px;color:#000;transform:scaleX(0.919);transform-origin:0 0;">1.12070</div><div class="t" style="left:7.2px;top:384.45px;font-size:10.1px;color:#000;transform:scaleX(0.933);transform-origin:0 0;">MACD(12,26,9) 0.000706 0.001325</div><div class="t" style="left:1310.5px;top:382.45px;font-size:10.1px;color:#000;transform:scaleX(0.95);transform-origin:0 0;">0.003847</div><div class="t" style="left:1310.5px;top:440.45px;font-size:10.1px;color:#000;transform:scaleX(0.95);transform-origin:0 0;">0.00</div><div class="t" style="left:1309.5px;top:513.45px;font-size:10.1px;color:#000;transform:scaleX(0.95);transform-origin:0 0;">-0.004856</div><div class="t" style="left:2.3px;top:529.45px;font-size:10.1px;color:#000;transform:scaleX(0.95);transform-origin:0 0;">11 Oct 2018</div><div class="t" style="left:66.3px;top:529.45px;font-size:10.1px;color:#000;transform:scaleX(0.95);transform-origin:0 0;">15 Oct 23:00</div><div class="t" style="left:130.3px;top:529.45px;font-size:10.1px;color:#000;transform:scaleX(0.95);transform-origin:0 0;">18 Oct 14:00</div><div class="t" style="left:194.3px;top:529.45px;font-size:10.1px;color:#000;transform:scaleX(0.95);transform-origin:0 0;">23 Oct 04:00</div><div class="t" style="left:258.3px;top:529.45px;font-size:10.1px;color:#000;transform:scaleX(0.95);transform-origin:0 0;">25 Oct 22:00</div><div class="t" style="left:322.3px;top:529.45px;font-size:10.1px;color:#000;transform:scaleX(0.95);transform-origin:0 0;">30 Oct 14:00</div><div class="t" style="left:386.3px;top:529.45px;font-size:10.1px;color:#000;transform:scaleX(0.95);transform-origin:0 0;">2 Nov 04:00</div><div class="t" style="left:450.3px;top:529.45px;font-size:10.1px;color:#000;transform:scaleX(0.95);transform-origin:0 0;">6 Nov 23:00</div><div class="t" style="left:514.3px;top:529.45px;font-size:10.1px;color:#000;transform:scaleX(0.95);transform-origin:0 0;">9 Nov 15:00</div><div class="t" style="left:578.3px;top:529.45px;font-size:10.1px;color:#000;transform:scaleX(0.95);transform-origin:0 0;">14 Nov 04:00</div><div class="t" style="left:642.3px;top:529.45px;font-size:10.1px;color:#000;transform:scaleX(0.95);transform-origin:0 0;">16 Nov 23:00</div><div class="t" style="left:706.3px;top:529.45px;font-size:10.1px;color:#000;transform:scaleX(0.95);transform-origin:0 0;">21 Nov 15:00</div><div class="t" style="left:770.3px;top:529.45px;font-size:10.1px;color:#000;transform:scaleX(0.95);transform-origin:0 0;">26 Nov 07:00</div><div class="t" style="left:834.3px;top:529.45px;font-size:10.1px;color:#000;transform:scaleX(0.95);transform-origin:0 0;">28 Nov 23:00</div><div class="t" style="left:898.3px;top:529.45px;font-size:10.1px;color:#000;transform:scaleX(0.95);transform-origin:0 0;">3 Dec 15:00</div><div class="t" style="left:962.3px;top:529.45px;font-size:10.1px;color:#000;transform:scaleX(0.95);transform-origin:0 0;">6 Dec 04:00</div><div class="t" style="left:1026.3px;top:529.45px;font-size:10.1px;color:#000;transform:scaleX(0.95);transform-origin:0 0;">10 Dec 23:00</div>
<div style="position:absolute;left:1308px;top:236px;width:39px;height:11px;background:#000"></div><div class="t" style="left:1311.6px;top:237.45px;font-size:10.1px;color:#fff;transform:scaleX(0.919);transform-origin:0 0;">1.13630</div>

<div style="position:absolute;left:6px;top:47px;width:107px;height:38px;border:1px solid #a80000;background:linear-gradient(#dc2a2a,#b00404);"></div>
<div style="position:absolute;left:117px;top:47px;width:106px;height:38px;border:1px solid #a80000;background:linear-gradient(#dc2a2a,#b00404);"></div>
<div style="position:absolute;left:6px;top:23px;width:50px;height:24px;border:1px solid #a80000;border-bottom:none;background:linear-gradient(#fc5252,#e43434);"></div>
<div style="position:absolute;left:173px;top:23px;width:50px;height:24px;border:1px solid #a80000;border-bottom:none;background:linear-gradient(#fc5252,#e43434);"></div>
<div style="position:absolute;left:10px;top:46px;width:44px;height:1px;background:#8a0000"></div>
<div style="position:absolute;left:10px;top:47px;width:44px;height:1px;background:#f07070"></div>
<div style="position:absolute;left:177px;top:46px;width:44px;height:1px;background:#8a0000"></div>
<div style="position:absolute;left:177px;top:47px;width:44px;height:1px;background:#f07070"></div>
<div style="position:absolute;left:60px;top:23px;width:109px;height:20px;border:1px solid #a9acb4;background:#fff"></div>
<div style="position:absolute;left:61px;top:24px;width:18px;height:18px;border:1px solid #fff;background:linear-gradient(#f1f1f1 0%,#ececec 35%,#dcdcdc 38%,#d3d3d3 100%)"></div>
<div style="position:absolute;left:81px;top:24px;width:1px;height:20px;background:#a9acb4"></div>
<div style="position:absolute;left:150px;top:24px;width:18px;height:18px;border:1px solid #fff;background:linear-gradient(#f1f1f1 0%,#ececec 35%,#dcdcdc 38%,#d3d3d3 100%)"></div>
<div style="position:absolute;left:149px;top:24px;width:1px;height:20px;background:#a9acb4"></div>
<svg style="position:absolute;left:0;top:0" width="230" height="90" shape-rendering="crispEdges"><g fill="#4d5cb6"><rect x="68" y="32" width="5" height="1"/><rect x="69" y="33" width="3" height="1"/><rect x="70" y="34" width="1" height="1"/><rect x="159" y="32" width="1" height="1"/><rect x="158" y="33" width="3" height="1"/><rect x="157" y="34" width="5" height="1"/></g></svg>

<div class="t" style="left:18.2px;top:28.57px;font-size:12.2px;color:#fff;transform:scaleX(0.86);transform-origin:0 0;">SELL</div><div class="t" style="left:186.3px;top:28.57px;font-size:12.2px;color:#fff;transform:scaleX(0.92);transform-origin:0 0;">BUY</div><div class="t" style="left:122.6px;top:28.27px;font-size:12.2px;color:#000;transform:scaleX(0.95);transform-origin:0 0;">3.00</div><div class="t" style="left:26.3px;top:67.74px;font-size:12px;color:#fff;font-weight:bold;">1.13</div><div class="t" style="left:53.1px;top:48.46px;font-size:35.6px;color:#fff;transform:scaleX(0.83);transform-origin:0 0;">63</div><div class="t" style="left:93.5px;top:52.97px;font-size:11.5px;color:#fff;font-weight:bold;">0</div><div class="t" style="left:136.5px;top:67.74px;font-size:12px;color:#fff;font-weight:bold;">1.13</div><div class="t" style="left:163.3px;top:48.46px;font-size:35.6px;color:#fff;transform:scaleX(0.83);transform-origin:0 0;">65</div><div class="t" style="left:203.7px;top:52.97px;font-size:11.5px;color:#fff;font-weight:bold;">0</div>

<div style="position:absolute;left:0;top:545px;width:1347px;height:1px;background:#e3e3e3"></div>
<div style="position:absolute;left:0;top:547px;width:1347px;height:1px;background:#000"></div>
<div style="position:absolute;left:0;top:548px;width:1347px;height:18px;background:#f0f0f0"></div>
<div style="position:absolute;left:0;top:566px;width:1347px;height:1px;background:#fbfbfb"></div>
<div style="position:absolute;left:0;top:567px;width:1347px;height:4px;background:#f0f0f0"></div>
<div style="position:absolute;left:4px;top:547px;width:90px;height:18px;border:1px solid #000;border-top:none;background:#fff"></div>
<svg style="position:absolute;left:1310px;top:550px" width="37" height="12"><polygon points="8.5,6 12.5,2.5 12.5,9.5" fill="#a0a0a0"/><polygon points="31.5,6 28,2.5 28,9.5" fill="#a0a0a0"/></svg>
<div style="position:absolute;left:184px;top:550px;width:1px;height:14px;background:#6d6d6d"></div>
<div style="position:absolute;left:276px;top:550px;width:1px;height:14px;background:#6d6d6d"></div>
<div style="position:absolute;left:368px;top:550px;width:1px;height:14px;background:#6d6d6d"></div>
<div style="position:absolute;left:460px;top:550px;width:1px;height:14px;background:#6d6d6d"></div>
<div style="position:absolute;left:544px;top:550px;width:1px;height:14px;background:#6d6d6d"></div>
<div style="position:absolute;left:636px;top:550px;width:1px;height:14px;background:#6d6d6d"></div>
<div style="position:absolute;left:728px;top:550px;width:1px;height:14px;background:#6d6d6d"></div>

<div class="t" style="left:16.6px;top:552.22px;font-size:12.5px;color:#000;transform:scaleX(0.935);transform-origin:0 0;">EURUSD,H4</div><div class="t" style="left:106.0px;top:552.22px;font-size:12.5px;color:#6d6d6d;transform:scaleX(0.96);transform-origin:0 0;">USDCHF,H4</div><div class="t" style="left:194.79999999999998px;top:552.22px;font-size:12.5px;color:#6d6d6d;transform:scaleX(0.96);transform-origin:0 0;">USDCAD,H4</div><div class="t" style="left:287.0px;top:552.22px;font-size:12.5px;color:#6d6d6d;transform:scaleX(0.96);transform-origin:0 0;">AUDUSD,H4</div><div class="t" style="left:377.9px;top:552.22px;font-size:12.5px;color:#6d6d6d;transform:scaleX(0.96);transform-origin:0 0;">USDCNH,H4</div><div class="t" style="left:469.7px;top:552.22px;font-size:12.5px;color:#6d6d6d;transform:scaleX(0.96);transform-origin:0 0;">USDJPY,H1</div><div class="t" style="left:554.9000000000001px;top:552.22px;font-size:12.5px;color:#6d6d6d;transform:scaleX(0.96);transform-origin:0 0;">XAUUSD,H1</div><div class="t" style="left:647.9000000000001px;top:552.22px;font-size:12.5px;color:#6d6d6d;transform:scaleX(0.96);transform-origin:0 0;">GBPUSD,H1</div>
</body></html>
